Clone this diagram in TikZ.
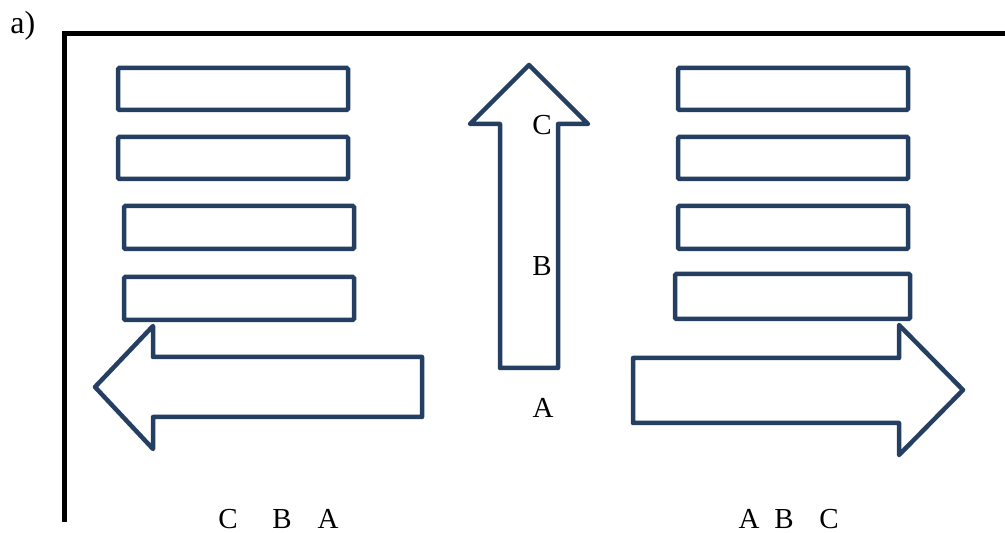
\documentclass[tikz,border=0pt]{standalone}
\usepackage{fontspec}
\setmainfont{Liberation Serif}
\definecolor{navy}{HTML}{243F62}
\begin{document}
\begin{tikzpicture}[x=0.5pt,y=-0.5pt,
  bar/.style={draw=navy,line width=2.25pt,fill=white,inner sep=0pt,rounded corners=0.6pt},
  shapearrow/.style={draw=navy,line width=2.25pt,line join=round,fill=white},
  frame/.style={draw=black,line width=2.75pt,line join=miter},
  lbl/.style={inner sep=0pt,anchor=base,font=\fontsize{14.5}{16}\selectfont}]
\useasboundingbox (0,0) rectangle (1005,533);
\fill[white] (0,0) rectangle (1005,533);
% frame
\coordinate (fb) at (64.5,522);
\coordinate (fc) at (64.5,33.5);
\coordinate (fr) at (1005,33.5);
\draw[frame] (fb) -- (fc) -- (fr);
\node[anchor=base west,inner sep=0pt,font=\fontsize{16}{18}\selectfont] (lab) at (10,34) {a)};
% left bars
\node[bar,minimum width=115pt,minimum height=21pt] (l1) at (233,89) {};
\node[bar,minimum width=115pt,minimum height=21pt] (l2) at (233,158) {};
\node[bar,minimum width=115pt,minimum height=21.5pt] (l3) at (239,227.5) {};
\node[bar,minimum width=115pt,minimum height=21.5pt] (l4) at (239,298.5) {};
% right bars
\node[bar,minimum width=115pt,minimum height=21pt] (r1) at (793,89) {};
\node[bar,minimum width=115pt,minimum height=21pt] (r2) at (793,158) {};
\node[bar,minimum width=115pt,minimum height=21.5pt] (r3) at (793,227.5) {};
\node[bar,minimum width=117.5pt,minimum height=22.5pt] (r4) at (792.5,296.5) {};
% up arrow
\draw[shapearrow] (529,65) -- (588,124) -- (558,124) -- (558,368) -- (500,368) -- (500,124) -- (470,124) -- cycle;
% left arrow
\draw[shapearrow] (95,387) -- (153,326) -- (153,357) -- (422,357) -- (422,417) -- (153,417) -- (153,449) -- cycle;
% right arrow
\draw[shapearrow] (963,390) -- (899,325) -- (899,358) -- (633,358) -- (633,423) -- (899,423) -- (899,455) -- cycle;
% labels in up arrow
\node[lbl] (uc) at (542,135) {C};
\node[lbl] (ub) at (542,276) {B};
\node[lbl] (ua) at (543,417) {A};
% bottom labels
\node[lbl] (lc) at (228,528) {C};
\node[lbl] (lb) at (282,528) {B};
\node[lbl] (la) at (328,528) {A};
\node[lbl] (ra) at (749,528) {A};
\node[lbl] (rb) at (784,528) {B};
\node[lbl] (rc) at (829,528) {C};
\end{tikzpicture}
\end{document}
